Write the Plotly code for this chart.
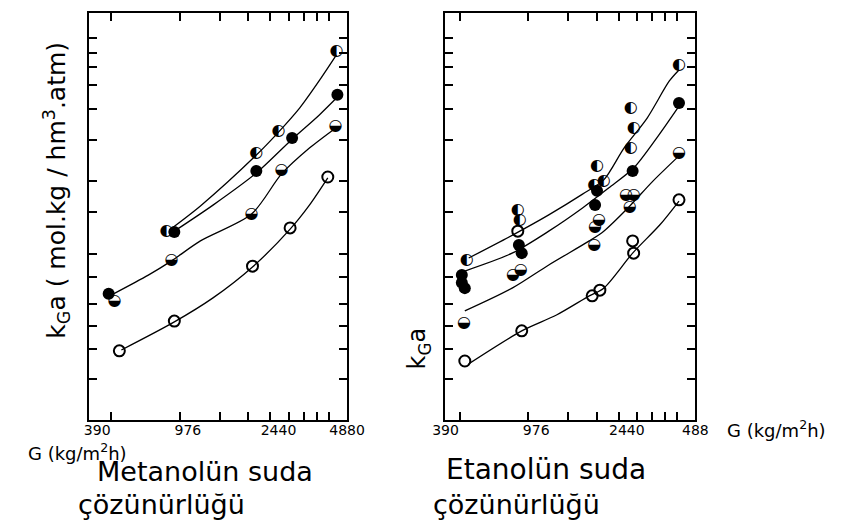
import plotly.graph_objects as go

W, H = 855, 522

# ---------------- DATA ----------------
# Left panel: Metanolün suda çözünürlüğü   (G in kg/m2h, kGa in arbitrary units)
met_halfL_G = [787, 1950, 2441, 4383]
met_halfL_k = [46.4, 65.6, 71.0, 90.7]
met_fill_G = [438, 851, 1950, 2800, 4427]
met_fill_k = [31.0, 46.2, 61.2, 69.3, 79.9]
met_halfB_G = [465, 827, 1858, 2512, 4341]
met_halfB_k = [29.2, 39.3, 50.6, 61.4, 72.2]
met_open_G = [488, 851, 1876, 2744, 4017]
met_open_k = [17.0, 24.3, 37.8, 47.2, 59.7]

met_c1_G = [810, 1108, 1950, 2418, 3026, 3750, 4383]
met_c1_k = [46.7, 52.6, 65.1, 70.5, 76.7, 84.0, 89.7]
met_c2_G = [851, 1258, 1950, 2800, 3678, 4473]
met_c2_k = [46.4, 52.8, 60.7, 69.0, 74.9, 79.6]
met_c3_G = [460, 654, 827, 1108, 1858, 2512, 3336, 4341]
met_c3_k = [31.0, 35.6, 39.1, 44.0, 50.6, 60.4, 66.8, 71.7]
met_c4_G = [498, 851, 1258, 1876, 2744, 3336, 4017]
met_c4_k = [17.2, 24.1, 30.0, 37.6, 46.9, 52.8, 59.5]

# Right panel: Etanolün suda çözünürlüğü
et_halfL_G = [483, 810, 827, 1805, 1932, 1753, 2539, 2614, 2539, 4135]
et_halfL_k = [39.3, 51.6, 49.1, 62.4, 58.7, 57.7, 76.7, 71.7, 66.8, 87.2]
et_fill_G = [460, 460, 474, 819, 843, 1805, 1770, 2588, 4135]
et_fill_k = [35.6, 33.7, 32.4, 43.0, 41.0, 56.3, 52.8, 61.2, 77.9]
et_halfB_G = [470, 772, 835, 1840, 1770, 1753, 2418, 2614, 2514, 4135]
et_halfB_k = [23.8, 35.6, 36.9, 49.1, 47.4, 43.0, 55.3, 55.3, 52.3, 65.6]
et_open_G = [474, 810, 843, 1719, 1858, 2588, 2614, 4135]
et_open_k = [14.5, 46.4, 21.9, 30.5, 31.9, 44.0, 41.0, 54.1]

et_c1_G = [493, 772, 1108, 1559, 1932, 2371, 2997, 3751, 4135]
et_c1_k = [39.8, 45.5, 50.4, 55.5, 59.0, 66.8, 74.2, 83.3, 86.0]
et_c2_G = [474, 765, 1108, 1559, 2029, 2614, 3304, 4135]
et_c2_k = [36.6, 41.0, 46.4, 52.1, 57.0, 61.9, 69.3, 77.1]
et_c3_G = [474, 765, 1108, 1669, 1932, 2466, 3177, 4135]
et_c3_k = [26.8, 32.4, 38.1, 44.0, 46.4, 52.1, 58.7, 64.9]
et_c4_G = [493, 843, 1198, 1669, 1932, 2588, 3402, 4135]
et_c4_k = [13.8, 21.9, 25.8, 30.5, 32.4, 41.0, 47.9, 53.8]

x_tickvals = [390, 976, 2440, 4880]
x_ticktext_left = ["390", "976", "2440", "4880"]
x_ticktext_right = ["390", "976", "2440", "488"]
x_mark_ticks = [450 * k for k in range(1, 10)]
y_ticks = [93.9, 90.2, 86.7, 82.3, 76.4, 68.8, 58.7, 51.1, 40.8, 35.1, 28.5, 23.1, 17.4, 10.1]

# ---------------- FIGURE ----------------
FONT = "DejaVu Sans"
fig = go.Figure()


def add_panel(xa, xa_lab, ya, curves, halfL, fill, halfB, opn):
    for g, k in curves:
        fig.add_trace(go.Scatter(x=g, y=k, mode="lines", xaxis=xa, yaxis=ya,
                                 line=dict(color="black", width=1.3, shape="spline", smoothing=0.8),
                                 hoverinfo="skip"))
    fig.add_trace(go.Scatter(x=opn[0], y=opn[1], mode="markers", xaxis=xa, yaxis=ya,
                             marker=dict(symbol="circle-open", size=11, color="black",
                                         line=dict(width=2, color="black"))))
    fig.add_trace(go.Scatter(x=fill[0], y=fill[1], mode="markers", xaxis=xa, yaxis=ya,
                             marker=dict(symbol="circle", size=12, color="black")))
    fig.add_trace(go.Scatter(x=halfL[0], y=halfL[1], mode="text", xaxis=xa, yaxis=ya,
                             text=["◐"] * len(halfL[0]), textposition="middle center",
                             textfont=dict(family=FONT, size=16, color="black")))
    # drawn on the label overlay axis (identical range) so that axis carries data
    fig.add_trace(go.Scatter(x=halfB[0], y=halfB[1], mode="text", xaxis=xa_lab, yaxis=ya,
                             text=["◒"] * len(halfB[0]), textposition="middle center",
                             textfont=dict(family=FONT, size=16, color="black")))


add_panel("x", "x3", "y",
          [(met_c1_G, met_c1_k), (met_c2_G, met_c2_k), (met_c3_G, met_c3_k), (met_c4_G, met_c4_k)],
          (met_halfL_G, met_halfL_k), (met_fill_G, met_fill_k),
          (met_halfB_G, met_halfB_k), (met_open_G, met_open_k))
add_panel("x2", "x4", "y2",
          [(et_c1_G, et_c1_k), (et_c2_G, et_c2_k), (et_c3_G, et_c3_k), (et_c4_G, et_c4_k)],
          (et_halfL_G, et_halfL_k), (et_fill_G, et_fill_k),
          (et_halfB_G, et_halfB_k), (et_open_G, et_open_k))


def xmarks(domain, rng, anchor):
    # main axis: frame + tick marks (bottom and mirrored top), no labels
    return dict(type="log", domain=domain, range=rng, anchor=anchor,
                tickmode="array", tickvals=x_mark_ticks, ticks="inside", ticklen=8,
                tickwidth=1.5, tickcolor="black", showticklabels=False,
                showline=True, linecolor="black", linewidth=2, mirror="ticks",
                showgrid=False, zeroline=False)


def xlabels(rng, ticktext, overlay, anchor):
    # overlay axis: the hand-written G values only
    return dict(type="log", range=rng, overlaying=overlay, anchor=anchor, side="bottom",
                tickmode="array", tickvals=x_tickvals, ticktext=ticktext, ticks="",
                showline=False, showgrid=False, zeroline=False, ticklabelstandoff=0,
                tickfont=dict(family=FONT, size=14, color="black"))


def yax(domain, anchor):
    return dict(domain=domain, range=[0, 100], anchor=anchor,
                tickmode="array", tickvals=y_ticks, ticks="inside", ticklen=8,
                tickwidth=1.5, tickcolor="black", showticklabels=False,
                showline=True, linecolor="black", linewidth=2, mirror="ticks",
                showgrid=False, zeroline=False)


ydom = [1 - 412 / H, 1 - 5 / H]
rng_left = [2.5572, 3.6887]
rng_right = [2.5869, 3.6887]
fig.update_layout(
    width=W, height=H, margin=dict(l=0, r=0, t=0, b=0),
    paper_bgcolor="white", plot_bgcolor="white", showlegend=False,
    xaxis=xmarks([72 / W, 339 / W], rng_left, "y"),
    yaxis=yax(ydom, "x"),
    xaxis2=xmarks([440 / W, 700 / W], rng_right, "y2"),
    yaxis2=yax(ydom, "x2"),
    xaxis3=xlabels(rng_left, x_ticktext_left, "x", "y"),
    xaxis4=xlabels(rng_right, x_ticktext_right, "x2", "y2"),
)


def ann(text, px, py, size, angle=0, xanchor="center"):
    fig.add_annotation(text=text, x=px / W, y=1 - py / H, xref="paper", yref="paper",
                       showarrow=False, textangle=angle, xanchor=xanchor, yanchor="middle",
                       font=dict(family=FONT, size=size, color="black"))


ann("k<sub>G</sub>a ( mol.kg / hm<sup>3</sup>.atm)", 38, 182, 25, angle=-90)
ann("k<sub>G</sub>a", 414, 340, 24, angle=-90)
ann("G (kg/m<sup>2</sup>h)", 6, 444, 18, xanchor="left")
ann("G (kg/m<sup>2</sup>h)", 731, 421, 18, xanchor="left")
ann("Metanolün suda", 192, 463, 27)
ann("çözünürlüğü", 147, 496, 27)
ann("Etanolün suda", 545, 461, 28)
ann("çözünürlüğü", 515, 496, 27)

fig.write_html("out.html")
